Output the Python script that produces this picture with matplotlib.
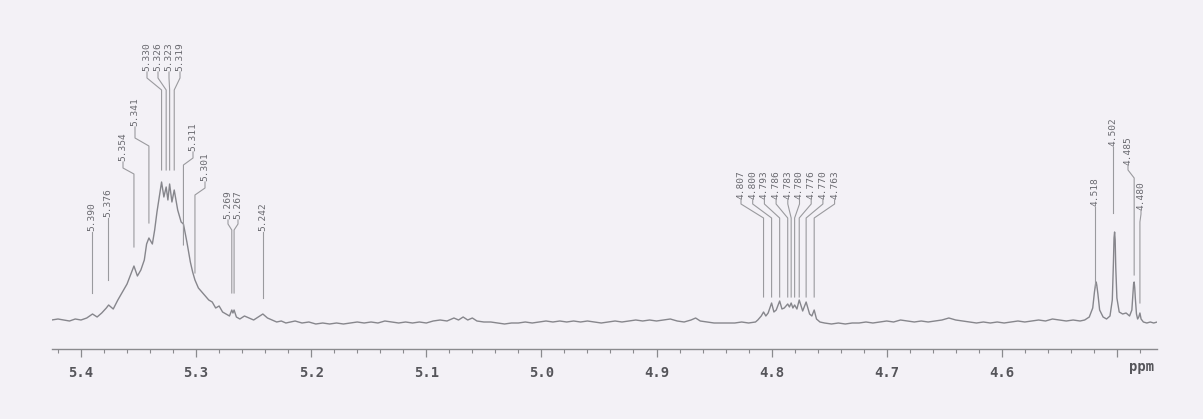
import numpy as np
import matplotlib.pyplot as plt

# trace: chemical shift (ppm) and height above baseline (px)
shift = [
    5.4255, 5.420, 5.415, 5.410, 5.405, 5.400, 5.395, 5.390, 5.386, 5.382,
    5.378, 5.376, 5.372, 5.368, 5.364, 5.360, 5.356, 5.354, 5.351, 5.348,
    5.345, 5.343, 5.341, 5.338, 5.336, 5.334, 5.332, 5.330, 5.328, 5.326,
    5.3245, 5.323, 5.321, 5.319, 5.316, 5.313, 5.311, 5.308, 5.305, 5.303,
    5.301, 5.298, 5.295, 5.292, 5.289, 5.286, 5.283, 5.280, 5.277, 5.274,
    5.271, 5.269, 5.268, 5.267, 5.265, 5.262, 5.258, 5.254, 5.250, 5.246,
    5.242, 5.238, 5.234, 5.230, 5.226, 5.222, 5.218,
    5.214, 5.208, 5.202, 5.196, 5.190, 5.184, 5.178, 5.172, 5.166, 5.160,
    5.154, 5.148, 5.142, 5.136, 5.130, 5.124, 5.118, 5.112, 5.106, 5.100,
    5.094, 5.088, 5.082, 5.076, 5.072, 5.068, 5.064, 5.060, 5.056, 5.050,
    5.044, 5.038, 5.032, 5.026, 5.020, 5.014, 5.008, 5.002, 4.996, 4.990,
    4.984, 4.978, 4.972, 4.966, 4.960, 4.954, 4.948, 4.942, 4.936, 4.930,
    4.924, 4.918, 4.912, 4.906, 4.900, 4.894, 4.888, 4.882, 4.876, 4.870,
    4.866, 4.862, 4.856, 4.850, 4.844, 4.838, 4.832, 4.826, 4.820, 4.814,
    4.812, 4.809, 4.807, 4.805, 4.803, 4.800, 4.798, 4.796, 4.793, 4.791,
    4.789, 4.786, 4.7845, 4.783, 4.7815, 4.780, 4.778, 4.776, 4.773, 4.770,
    4.767, 4.765, 4.763, 4.761, 4.758,
    4.754, 4.748, 4.742, 4.736, 4.730, 4.724, 4.718, 4.712, 4.706, 4.700,
    4.694, 4.688, 4.682, 4.676, 4.670, 4.664, 4.658, 4.652, 4.646, 4.640,
    4.634, 4.628, 4.622, 4.616, 4.610, 4.604, 4.598, 4.592, 4.586, 4.580,
    4.574, 4.568, 4.562, 4.556, 4.550, 4.544, 4.538, 4.532, 4.528, 4.524,
    4.521, 4.5195, 4.5185, 4.518, 4.5175, 4.5165, 4.515, 4.512, 4.509, 4.506,
    4.504, 4.503, 4.5025, 4.502, 4.5015, 4.501, 4.500, 4.498, 4.495, 4.492,
    4.489, 4.487, 4.486, 4.4855, 4.485, 4.4845, 4.484, 4.483, 4.482, 4.481,
    4.480, 4.479, 4.477, 4.474, 4.471, 4.468, 4.465,
]
height = [
    2, 3, 2, 1, 3, 2, 4, 8, 5, 9,
    14, 17, 13, 22, 30, 38, 50, 56, 46, 52,
    62, 78, 84, 78, 92, 110, 125, 140, 125, 135,
    122, 138, 120, 132, 112, 100, 98, 80, 60, 50,
    42, 34, 30, 26, 22, 20, 14, 16, 10, 8,
    6, 12, 9, 12, 5, 3, 6, 4, 2, 5,
    8, 4, 2, 0, 1, -1, 0,
    1, -1, 0, -2, -1, -2, -1, -2, -1, 0,
    -1, 0, -1, 1, 0, -1, 0, -1, 0, -1,
    1, 2, 1, 4, 2, 5, 2, 4, 1, 0,
    0, -1, -2, -1, -1, 0, -1, 0, 1, 0,
    1, 0, 1, 0, 1, 0, -1, 0, 1, 0,
    1, 2, 1, 2, 1, 2, 3, 1, 0, 2,
    4, 1, 0, -1, -1, -1, -1, 0, -1, 0,
    2, 6, 10, 6, 9, 19, 10, 12, 21, 13,
    14, 18, 15, 19, 14, 17, 13, 22, 11, 20,
    8, 6, 12, 3, 0,
    -1, -2, -1, -2, -1, -1, 0, -1, 0, 1,
    0, 2, 1, 0, 1, 0, 1, 2, 4, 2,
    1, 0, -1, 0, -1, 0, -1, 0, 1, 0,
    1, 2, 1, 3, 2, 1, 2, 1, 2, 5,
    14, 30, 38, 40, 37, 28, 12, 5, 3, 6,
    22, 60, 84, 90, 82, 55, 24, 10, 8, 9,
    6, 12, 30, 38, 40, 34, 24, 8, 3, 5,
    9, 3, 0, -1, 0, -1, 0,
]

peak_labels = ["5.390", "5.376", "5.354", "5.341", "5.330", "5.326", "5.323",
               "5.319", "5.311", "5.301", "5.269", "5.267", "5.242",
               "4.807", "4.800", "4.793", "4.786", "4.783", "4.780", "4.776",
               "4.770", "4.763", "4.518", "4.502", "4.485", "4.480"]

# label placement in scan pixels: text x, text bottom, knee 1, knee 2, line end
layout = [
    (92, 232, None, None, 293), (108, 218, None, None, 280),
    (123, 162, 168, 174, 247), (135, 127, 138, 146, 223),
    (147, 72, 78, 90, 170), (158, 72, 78, 90, 170),
    (169, 72, 78, 90, 170), (180, 72, 78, 90, 170),
    (193, 152, 158, 165, 245), (205, 182, 188, 195, 273),
    (228, 220, 224, 230, 293), (238, 220, 224, 230, 293),
    (263, 232, None, None, 298),
] + [(741 + 11.7 * i, 200, 204, 218, 297) for i in range(9)] + [
    (1095, 207, None, None, 287), (1113, 147, None, None, 213),
    (1128, 166, 170, 178, 275), (1141, 211, 214, 222, 303),
]

W, H = 1203, 419
X0, PPM0, SCALE = 81, 5.4, 1151.0   # 5.4 ppm at x=81 px, px per ppm
BASE, AXIS = 322, 349


def px2ppm(x):
    return PPM0 - (x - X0) / SCALE


def py(y):
    return BASE - y


bg = "#f3f1f6"
fig = plt.figure(figsize=(W / 100, H / 100), dpi=100, facecolor=bg)
left, right = 52, 1157
ax = fig.add_axes([left / W, (H - AXIS) / H, (right - left) / W, AXIS / H])
ax.set_facecolor(bg)
ax.set_xlim(px2ppm(left), px2ppm(right))
ax.set_ylim(py(AXIS), py(0))

ax.plot(shift, height, color="#86868c", lw=1.0)

for lab, (tx, tb, k1, k2, end) in zip(peak_labels, layout):
    p = float(lab)
    if k1 is None:
        xs, ys = [px2ppm(tx), px2ppm(tx)], [py(tb), py(end)]
    else:
        xs = [px2ppm(tx), px2ppm(tx), p, p]
        ys = [py(tb), py(k1), py(k2), py(end)]
    ax.plot(xs, ys, color="#9a9a9e", lw=0.8)
    ax.text(px2ppm(tx), py(tb) + 1, lab, rotation=90, ha="center", va="bottom",
            fontsize=6.8, family="DejaVu Sans Mono", color="#6a6a70")

for s in ["top", "left", "right"]:
    ax.spines[s].set_visible(False)
ax.spines["bottom"].set_color("#8a8a8e")
ax.spines["bottom"].set_linewidth(1.0)
ax.set_yticks([])
ax.set_xticks(np.arange(4.5, 5.45, 0.1))
ax.set_xticklabels([f"{t:.1f}" for t in np.arange(4.5, 5.45, 0.1)])
ax.set_xticks(np.arange(4.48, 5.43, 0.02), minor=True)
ax.tick_params(axis="x", which="major", length=6, width=0.9, color="#8a8a8e",
               labelsize=10, labelcolor="#55555a", pad=6)
ax.tick_params(axis="x", which="minor", length=3, width=0.8, color="#8a8a8e")
for t in ax.get_xticklabels():
    t.set_family("DejaVu Sans Mono")
    t.set_fontweight("bold")
    if t.get_text() == "4.5":
        t.set_visible(False)

fig.text(1142 / W, 1 - 367 / H, "ppm", ha="center", va="center", fontsize=10,
         family="DejaVu Sans Mono", fontweight="bold", color="#55555a")

fig.savefig("out.png", dpi=100, facecolor=bg)
